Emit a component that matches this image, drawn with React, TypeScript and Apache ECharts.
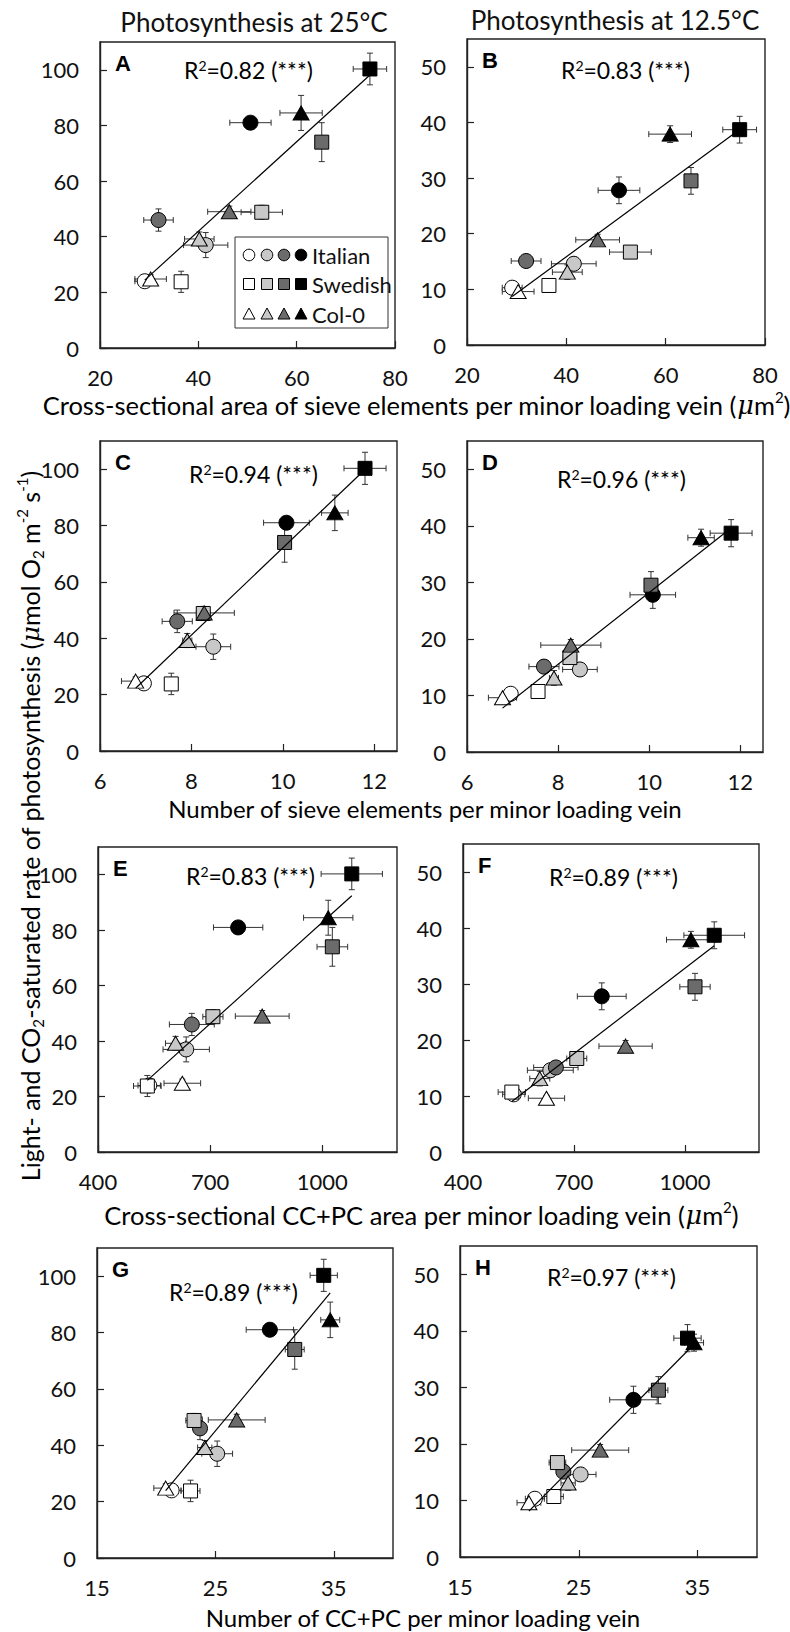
import React, { useEffect, useRef } from 'react';
import * as echarts from 'echarts';

// ---------- DATA (order within each genotype: white, light grey, dark grey, black) ----------
const genotypes = ['Italian', 'Swedish', 'Col-0'];
const levelFills = ['#ffffff', '#c8c8c8', '#6b6b6b', '#000000'];

// Light- and CO2-saturated photosynthesis at 25 °C
const photo25 = [
  [24.0, 37.0, 46.0, 81.0],
  [23.8, 48.8, 74.0, 100.3],
  [24.8, 39.2, 49.0, 84.5],
];
const photo25Err = [
  [1.5, 4.5, 4.0, 1.5],
  [3.8, 2.5, 7.0, 5.7],
  [1.5, 2.5, 2.0, 6.3],
];
// Photosynthesis at 12.5 °C
const photo12 = [
  [10.3, 14.6, 15.1, 27.8],
  [10.7, 16.7, 29.5, 38.7],
  [9.6, 13.1, 18.9, 37.9],
];
const photo12Err = [
  [0.8, 1.2, 1.0, 2.4],
  [0.8, 1.0, 2.4, 2.4],
  [0.5, 1.3, 1.0, 1.5],
];
// Cross-sectional area of sieve elements per minor loading vein (µm²)
const seArea = [
  [29.1, 41.5, 31.9, 50.6],
  [36.5, 52.9, 65.1, 74.9],
  [30.3, 40.2, 46.3, 60.9],
];
const seAreaErr = [
  [2.0, 4.5, 3.0, 4.2],
  [1.0, 4.2, 1.0, 3.4],
  [3.2, 3.0, 4.4, 4.3],
];
// Number of sieve elements per minor loading vein
const seNumber = [
  [6.96, 8.48, 7.69, 10.08],
  [7.56, 8.26, 10.04, 11.8],
  [6.78, 7.91, 8.28, 11.14],
];
const seNumberErr = [
  [0.1, 0.38, 0.33, 0.5],
  [0.1, 0.15, 0.1, 0.46],
  [0.31, 0.1, 0.66, 0.29],
];
// Cross-sectional CC+PC area per minor loading vein (µm²)
const ccpcArea = [
  [537, 636, 651, 775],
  [532, 707.5, 1027, 1079],
  [625.6, 607.5, 839.4, 1016],
];
const ccpcAreaErr = [
  [30, 62, 60, 66],
  [37, 27, 41, 82],
  [49, 27, 72, 66],
];
// Number of CC+PC per minor loading vein
const ccpcNumber = [
  [21.3, 25.15, 23.7, 29.6],
  [22.9, 23.2, 31.7, 34.15],
  [20.8, 24.1, 26.8, 34.7],
];
const ccpcNumberErr = [
  [0.8, 1.3, 0.5, 2.0],
  [0.8, 0.7, 0.8, 1.15],
  [1.0, 0.6, 2.4, 0.8],
];

// Tick labels
const ticksSeArea = [20, 40, 60, 80];
const ticksSeNumber = [6, 8, 10, 12];
const ticksCcpcArea = [400, 700, 1000];
const ticksCcpcNumber = [15, 25, 35];
const ticksPhoto25 = [0, 20, 40, 60, 80, 100];
const ticksPhoto12 = [0, 10, 20, 30, 40, 50];

const r2Labels = ['0.82', '0.83', '0.94', '0.96', '0.83', '0.89', '0.89', '0.97'];
const panelLetters = ['A', 'B', 'C', 'D', 'E', 'F', 'G', 'H'];

// ---------- LAYOUT ----------
const FONT = 'Lato, sans-serif';
const grids = [
  { left: 100, top: 42, width: 295, height: 306 },
  { left: 467, top: 39, width: 298, height: 306 },
  { left: 100, top: 441, width: 297, height: 310 },
  { left: 467, top: 441, width: 296, height: 311 },
  { left: 98, top: 847, width: 299, height: 305 },
  { left: 463, top: 844, width: 296, height: 308 },
  { left: 97, top: 1248, width: 296, height: 310 },
  { left: 460, top: 1246, width: 297, height: 311 },
];
const r2Pos = [
  [184, 70], [561, 70], [189, 474], [557, 479],
  [186, 876], [549, 877], [169, 1292], [547, 1277],
];

const panels = [
  { x: seArea, xe: seAreaErr, y: photo25, ye: photo25Err, xr: [20, 80], yr: [0, 110], xt: ticksSeArea, yt: ticksPhoto25 },
  { x: seArea, xe: seAreaErr, y: photo12, ye: photo12Err, xr: [20, 80], yr: [0, 55], xt: ticksSeArea, yt: ticksPhoto12 },
  { x: seNumber, xe: seNumberErr, y: photo25, ye: photo25Err, xr: [6, 12.5], yr: [0, 110], xt: ticksSeNumber, yt: ticksPhoto25 },
  { x: seNumber, xe: seNumberErr, y: photo12, ye: photo12Err, xr: [6, 12.5], yr: [0, 55], xt: ticksSeNumber, yt: ticksPhoto12 },
  { x: ccpcArea, xe: ccpcAreaErr, y: photo25, ye: photo25Err, xr: [400, 1200], yr: [0, 110], xt: ticksCcpcArea, yt: ticksPhoto25 },
  { x: ccpcArea, xe: ccpcAreaErr, y: photo12, ye: photo12Err, xr: [400, 1200], yr: [0, 55], xt: ticksCcpcArea, yt: ticksPhoto12 },
  { x: ccpcNumber, xe: ccpcNumberErr, y: photo25, ye: photo25Err, xr: [15, 40], yr: [0, 110], xt: ticksCcpcNumber, yt: ticksPhoto25 },
  { x: ccpcNumber, xe: ccpcNumberErr, y: photo12, ye: photo12Err, xr: [15, 40], yr: [0, 55], xt: ticksCcpcNumber, yt: ticksPhoto12 },
];

const symbols = ['circle', 'rect', 'triangle'];
const symbolSizes: any[] = [15, 14, [16, 14]];

function fitLine(xs: number[], ys: number[]) {
  const n = xs.length;
  const mx = xs.reduce((a, b) => a + b, 0) / n;
  const my = ys.reduce((a, b) => a + b, 0) / n;
  let sxy = 0, sxx = 0;
  for (let i = 0; i < n; i++) {
    sxy += (xs[i] - mx) * (ys[i] - my);
    sxx += (xs[i] - mx) * (xs[i] - mx);
  }
  const b = sxy / sxx;
  const a = my - b * mx;
  const x0 = Math.min(...xs), x1 = Math.max(...xs);
  return [[x0, a + b * x0], [x1, a + b * x1]];
}

const richR2 = {
  n: { fontSize: 23, fontFamily: FONT, color: '#111' },
  sup: { fontSize: 14, fontFamily: FONT, color: '#111', verticalAlign: 'top' },
};
function richTitle(fs: number) {
  const lh = Math.round(fs * 1.25);
  const ss = Math.round(fs * 0.6);
  return {
    n: { fontSize: fs, fontFamily: FONT, color: '#111', lineHeight: lh },
    mu: { fontSize: fs, fontFamily: 'DejaVu Serif, serif', fontStyle: 'italic', color: '#111', lineHeight: lh },
    sup: { fontSize: ss, fontFamily: FONT, color: '#111', verticalAlign: 'top', lineHeight: ss + 3 },
    sub: { fontSize: ss, fontFamily: FONT, color: '#111', verticalAlign: 'bottom', lineHeight: ss + 3 },
  };
}

function buildOption() {
  const xAxis: any[] = [];
  const yAxis: any[] = [];
  const series: any[] = [];
  const grid: any[] = grids.map((g) => ({
    ...g,
    show: true,
    borderColor: '#222',
    borderWidth: 1.4,
    backgroundColor: 'transparent',
    containLabel: false,
  }));

  panels.forEach((p, i) => {
    xAxis.push({
      type: 'value',
      gridIndex: i,
      min: p.xr[0],
      max: p.xr[1],
      splitLine: { show: false },
      axisLine: { show: true, onZero: false, lineStyle: { color: '#222', width: 1.4 } },
      axisTick: { show: true, inside: true, length: 7, customValues: p.xt, lineStyle: { color: '#222', width: 1.2 } },
      axisLabel: { show: true, customValues: p.xt, margin: 18, fontSize: 22, fontFamily: FONT, color: '#111', formatter: (v: number) => String(v) },
    });
    yAxis.push({
      type: 'value',
      gridIndex: i,
      min: p.yr[0],
      max: p.yr[1],
      splitLine: { show: false },
      axisLine: { show: true, onZero: false, lineStyle: { color: '#222', width: 1.4 } },
      axisTick: { show: true, inside: true, length: 7, customValues: p.yt, lineStyle: { color: '#222', width: 1.2 } },
      axisLabel: { show: true, customValues: p.yt, margin: 21, fontSize: 22, fontFamily: FONT, color: '#111', formatter: (v: number) => String(v) },
    });

    // error bars
    const errData: number[][] = [];
    genotypes.forEach((_, g) => {
      p.x[g].forEach((xv, k) => {
        errData.push([xv, p.y[g][k], p.xe[g][k], p.ye[g][k]]);
      });
    });
    series.push({
      type: 'custom',
      xAxisIndex: i,
      yAxisIndex: i,
      z: 2,
      data: errData,
      encode: { x: 0, y: 1 },
      renderItem: (params: any, api: any) => {
        const x = api.value(0), y = api.value(1), ex = api.value(2), ey = api.value(3);
        const style = { stroke: '#333', lineWidth: 1 };
        const ch: any[] = [];
        const cap = 3;
        if (ex > 0) {
          const l = api.coord([x - ex, y]);
          const r = api.coord([x + ex, y]);
          ch.push({ type: 'line', shape: { x1: l[0], y1: l[1], x2: r[0], y2: r[1] }, style });
          ch.push({ type: 'line', shape: { x1: l[0], y1: l[1] - cap, x2: l[0], y2: l[1] + cap }, style });
          ch.push({ type: 'line', shape: { x1: r[0], y1: r[1] - cap, x2: r[0], y2: r[1] + cap }, style });
        }
        if (ey > 0) {
          const t = api.coord([x, y + ey]);
          const b = api.coord([x, y - ey]);
          ch.push({ type: 'line', shape: { x1: t[0], y1: t[1], x2: b[0], y2: b[1] }, style });
          ch.push({ type: 'line', shape: { x1: t[0] - cap, y1: t[1], x2: t[0] + cap, y2: t[1] }, style });
          ch.push({ type: 'line', shape: { x1: b[0] - cap, y1: b[1], x2: b[0] + cap, y2: b[1] }, style });
        }
        return { type: 'group', children: ch };
      },
      silent: true,
    });

    // markers
    genotypes.forEach((gname, g) => {
      series.push({
        type: 'scatter',
        name: gname,
        xAxisIndex: i,
        yAxisIndex: i,
        z: 3 + g,
        symbol: symbols[g],
        symbolSize: symbolSizes[g],
        itemStyle: { opacity: 1 },
        data: p.x[g].map((xv, k) => ({
          value: [xv, p.y[g][k]],
          itemStyle: { color: levelFills[k], borderColor: '#000', borderWidth: 1, opacity: 1 },
        })),
        emphasis: { disabled: true },
      });
    });

    // regression line
    const allX: number[] = [];
    const allY: number[] = [];
    genotypes.forEach((_, g) => {
      p.x[g].forEach((xv, k) => {
        allX.push(xv);
        allY.push(p.y[g][k]);
      });
    });
    series.push({
      type: 'line',
      xAxisIndex: i,
      yAxisIndex: i,
      z: 8,
      data: fitLine(allX, allY),
      symbol: 'none',
      lineStyle: { color: '#000', width: 1.2 },
      silent: true,
    });
  });

  const graphic: any[] = [];
  // column titles
  graphic.push({ type: 'text', x: 254, y: 22, style: { text: 'Photosynthesis at 25°C', fontSize: 26, fontFamily: FONT, fill: '#111', align: 'center', verticalAlign: 'middle' } });
  graphic.push({ type: 'text', x: 615, y: 20, style: { text: 'Photosynthesis at 12.5°C', fontSize: 26, fontFamily: FONT, fill: '#111', align: 'center', verticalAlign: 'middle' } });

  // panel letters and R2
  grids.forEach((g, i) => {
    graphic.push({
      type: 'text', x: g.left + 15, y: g.top + 21,
      style: { text: panelLetters[i], fontSize: 22, fontWeight: 'bold', fontFamily: 'Liberation Sans, Arial, sans-serif', fill: '#000', align: 'left', verticalAlign: 'middle' },
    });
    graphic.push({
      type: 'text', x: r2Pos[i][0], y: r2Pos[i][1],
      style: { text: `{n|R}{sup|2}{n|=${r2Labels[i]} (***)}`, rich: richR2, align: 'left', verticalAlign: 'middle' },
    });
  });

  // x-axis titles
  graphic.push({ type: 'text', x: 416, y: 405, style: { text: '{n|Cross-sectional area of sieve elements per minor loading vein (}{mu|μ}{n|m}{sup|2}{n|)}', rich: richTitle(25.5), align: 'center', verticalAlign: 'middle' } });
  graphic.push({ type: 'text', x: 425, y: 808, style: { text: '{n|Number of sieve elements per minor loading vein}', rich: richTitle(24), align: 'center', verticalAlign: 'middle' } });
  graphic.push({ type: 'text', x: 421, y: 1215, style: { text: '{n|Cross-sectional CC+PC area per minor loading vein (}{mu|μ}{n|m}{sup|2}{n|)}', rich: richTitle(25.5), align: 'center', verticalAlign: 'middle' } });
  graphic.push({ type: 'text', x: 423, y: 1617, style: { text: '{n|Number of CC+PC per minor loading vein}', rich: richTitle(24), align: 'center', verticalAlign: 'middle' } });

  // y-axis title
  graphic.push({
    type: 'text', x: 30, y: 826, rotation: Math.PI / 2,
    style: {
      text: '{n|Light- and CO}{sub|2}{n|-saturated rate of photosynthesis (}{mu|μ}{n|mol O}{sub|2}{n| m}{sup|-2}{n| s}{sup|-1}{n|)}',
      rich: richTitle(25), align: 'center', verticalAlign: 'middle',
    },
  });

  // legend in panel A
  const lg = { x: 235, y: 237, w: 153, h: 91 };
  graphic.push({ type: 'rect', shape: { x: lg.x, y: lg.y, width: lg.w, height: lg.h }, style: { fill: '#fff', stroke: '#333', lineWidth: 1 }, z: 20 });
  const rowY = [255, 284, 314];
  const colX = [249, 267, 284, 301];
  genotypes.forEach((name, g) => {
    levelFills.forEach((fill, k) => {
      const cx = colX[k], cy = rowY[g];
      const st = { fill, stroke: '#000', lineWidth: 1 };
      if (g === 0) graphic.push({ type: 'circle', shape: { cx, cy, r: 5.8 }, style: st, z: 21 });
      else if (g === 1) graphic.push({ type: 'rect', shape: { x: cx - 5.5, y: cy - 5.5, width: 11, height: 11 }, style: st, z: 21 });
      else graphic.push({ type: 'polygon', shape: { points: [[cx, cy - 6], [cx + 6, cy + 5], [cx - 6, cy + 5]] }, style: st, z: 21 });
    });
    graphic.push({ type: 'text', x: 312, y: rowY[g], z: 21, style: { text: name, fontSize: 22, fontFamily: FONT, fill: '#111', align: 'left', verticalAlign: 'middle' } });
  });

  return { animation: false, backgroundColor: '#fff', grid, xAxis, yAxis, series, graphic };
}

export default function App() {
  const ref = useRef<HTMLDivElement>(null);
  useEffect(() => {
    document.body.style.margin = '0';
    if (!ref.current) return;
    const chart = echarts.init(ref.current, undefined, { renderer: 'svg' });
    chart.setOption(buildOption() as any);
    return () => chart.dispose();
  }, []);
  return <div ref={ref} style={{ width: 790, height: 1632 }} />;
}
